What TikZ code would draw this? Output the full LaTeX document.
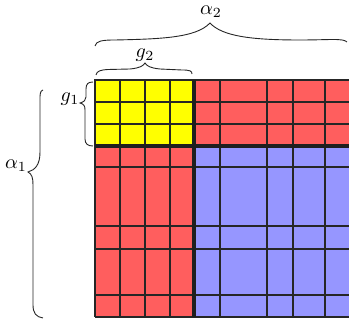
\documentclass[tikz,border=0pt]{standalone}
\begin{document}
\begin{tikzpicture}[x=0.5pt,y=-0.5pt,
  thinline/.style={line width=0.6pt,draw=black!85},
  thickline/.style={line width=1.6pt,draw=black!88},
  bracel/.style={line width=0.45pt,draw=black!85},
  lbl/.style={inner sep=0pt}]
\useasboundingbox (0,0) rectangle (349,320);
\definecolor{cyel}{RGB}{255,255,0}
\definecolor{cred}{RGB}{255,94,94}
\definecolor{cblue}{RGB}{150,150,255}
\begin{scope}
\clip (0,0) rectangle (349,320);
\fill[cyel] (95,80) rectangle (194,146);
\fill[cred] (194,80) rectangle (360,146);
\fill[cred] (95,146) rectangle (194,317);
\fill[cblue] (194,146) rectangle (360,317);
\foreach \x in {120,145,170,220,267,293,325}
  \draw[thinline] (\x,80) -- (\x,317);
\foreach \y in {102,124,167,226,249,295}
  \draw[thinline] (95,\y) -- (360,\y);
\draw[thinline] (95,317) -- (95,80) -- (360,80);
\draw[thinline] (95,317) -- (360,317);
\draw[thickline] (194,80) -- (194,317);
\draw[thickline] (95,146) -- (360,146);
\end{scope}
% alpha2 brace
\draw[bracel] (95,46) .. controls (96,41) and (102,40) .. (115,40)
  .. controls (160,39) and (196,38) .. (210,23)
  .. controls (222,36) and (250,40) .. (300,40)
  .. controls (330,40) and (343,38) .. (347,42);
\node[lbl] (a2) at (211,12) {$\alpha_2$};
% g2 brace
\draw[bracel] (96,75) .. controls (97,71) and (100,70) .. (108,69.5) -- (130,69)
  .. controls (140,68) and (143,66) .. (145,63)
  .. controls (147,66) and (150,68) .. (160,69) -- (182,70)
  .. controls (190,70) and (192,71) .. (192,74);
\node[lbl] (g2) at (145,55) {$g_2$};
% g1 brace
\draw[bracel] (93,82) .. controls (88,82) and (86,84) .. (86,89) -- (86,97)
  .. controls (86,100) and (84,102) .. (80,103)
  .. controls (84,104) and (85,106) .. (85,110) -- (85,139)
  .. controls (85,144) and (88,146) .. (93,146);
\node[lbl] (g1) at (70,99) {$g_1$};
% alpha1 brace
\draw[bracel] (43,90) .. controls (40,91) and (40,94) .. (40,100) -- (40,152)
  .. controls (40,165) and (35,170) .. (28,172)
  .. controls (32,174) and (33,178) .. (33,185) -- (33,305)
  .. controls (33,313) and (36,317) .. (43,318);
\node[lbl] (a1) at (16,166) {$\alpha_1$};
\end{tikzpicture}
\end{document}
